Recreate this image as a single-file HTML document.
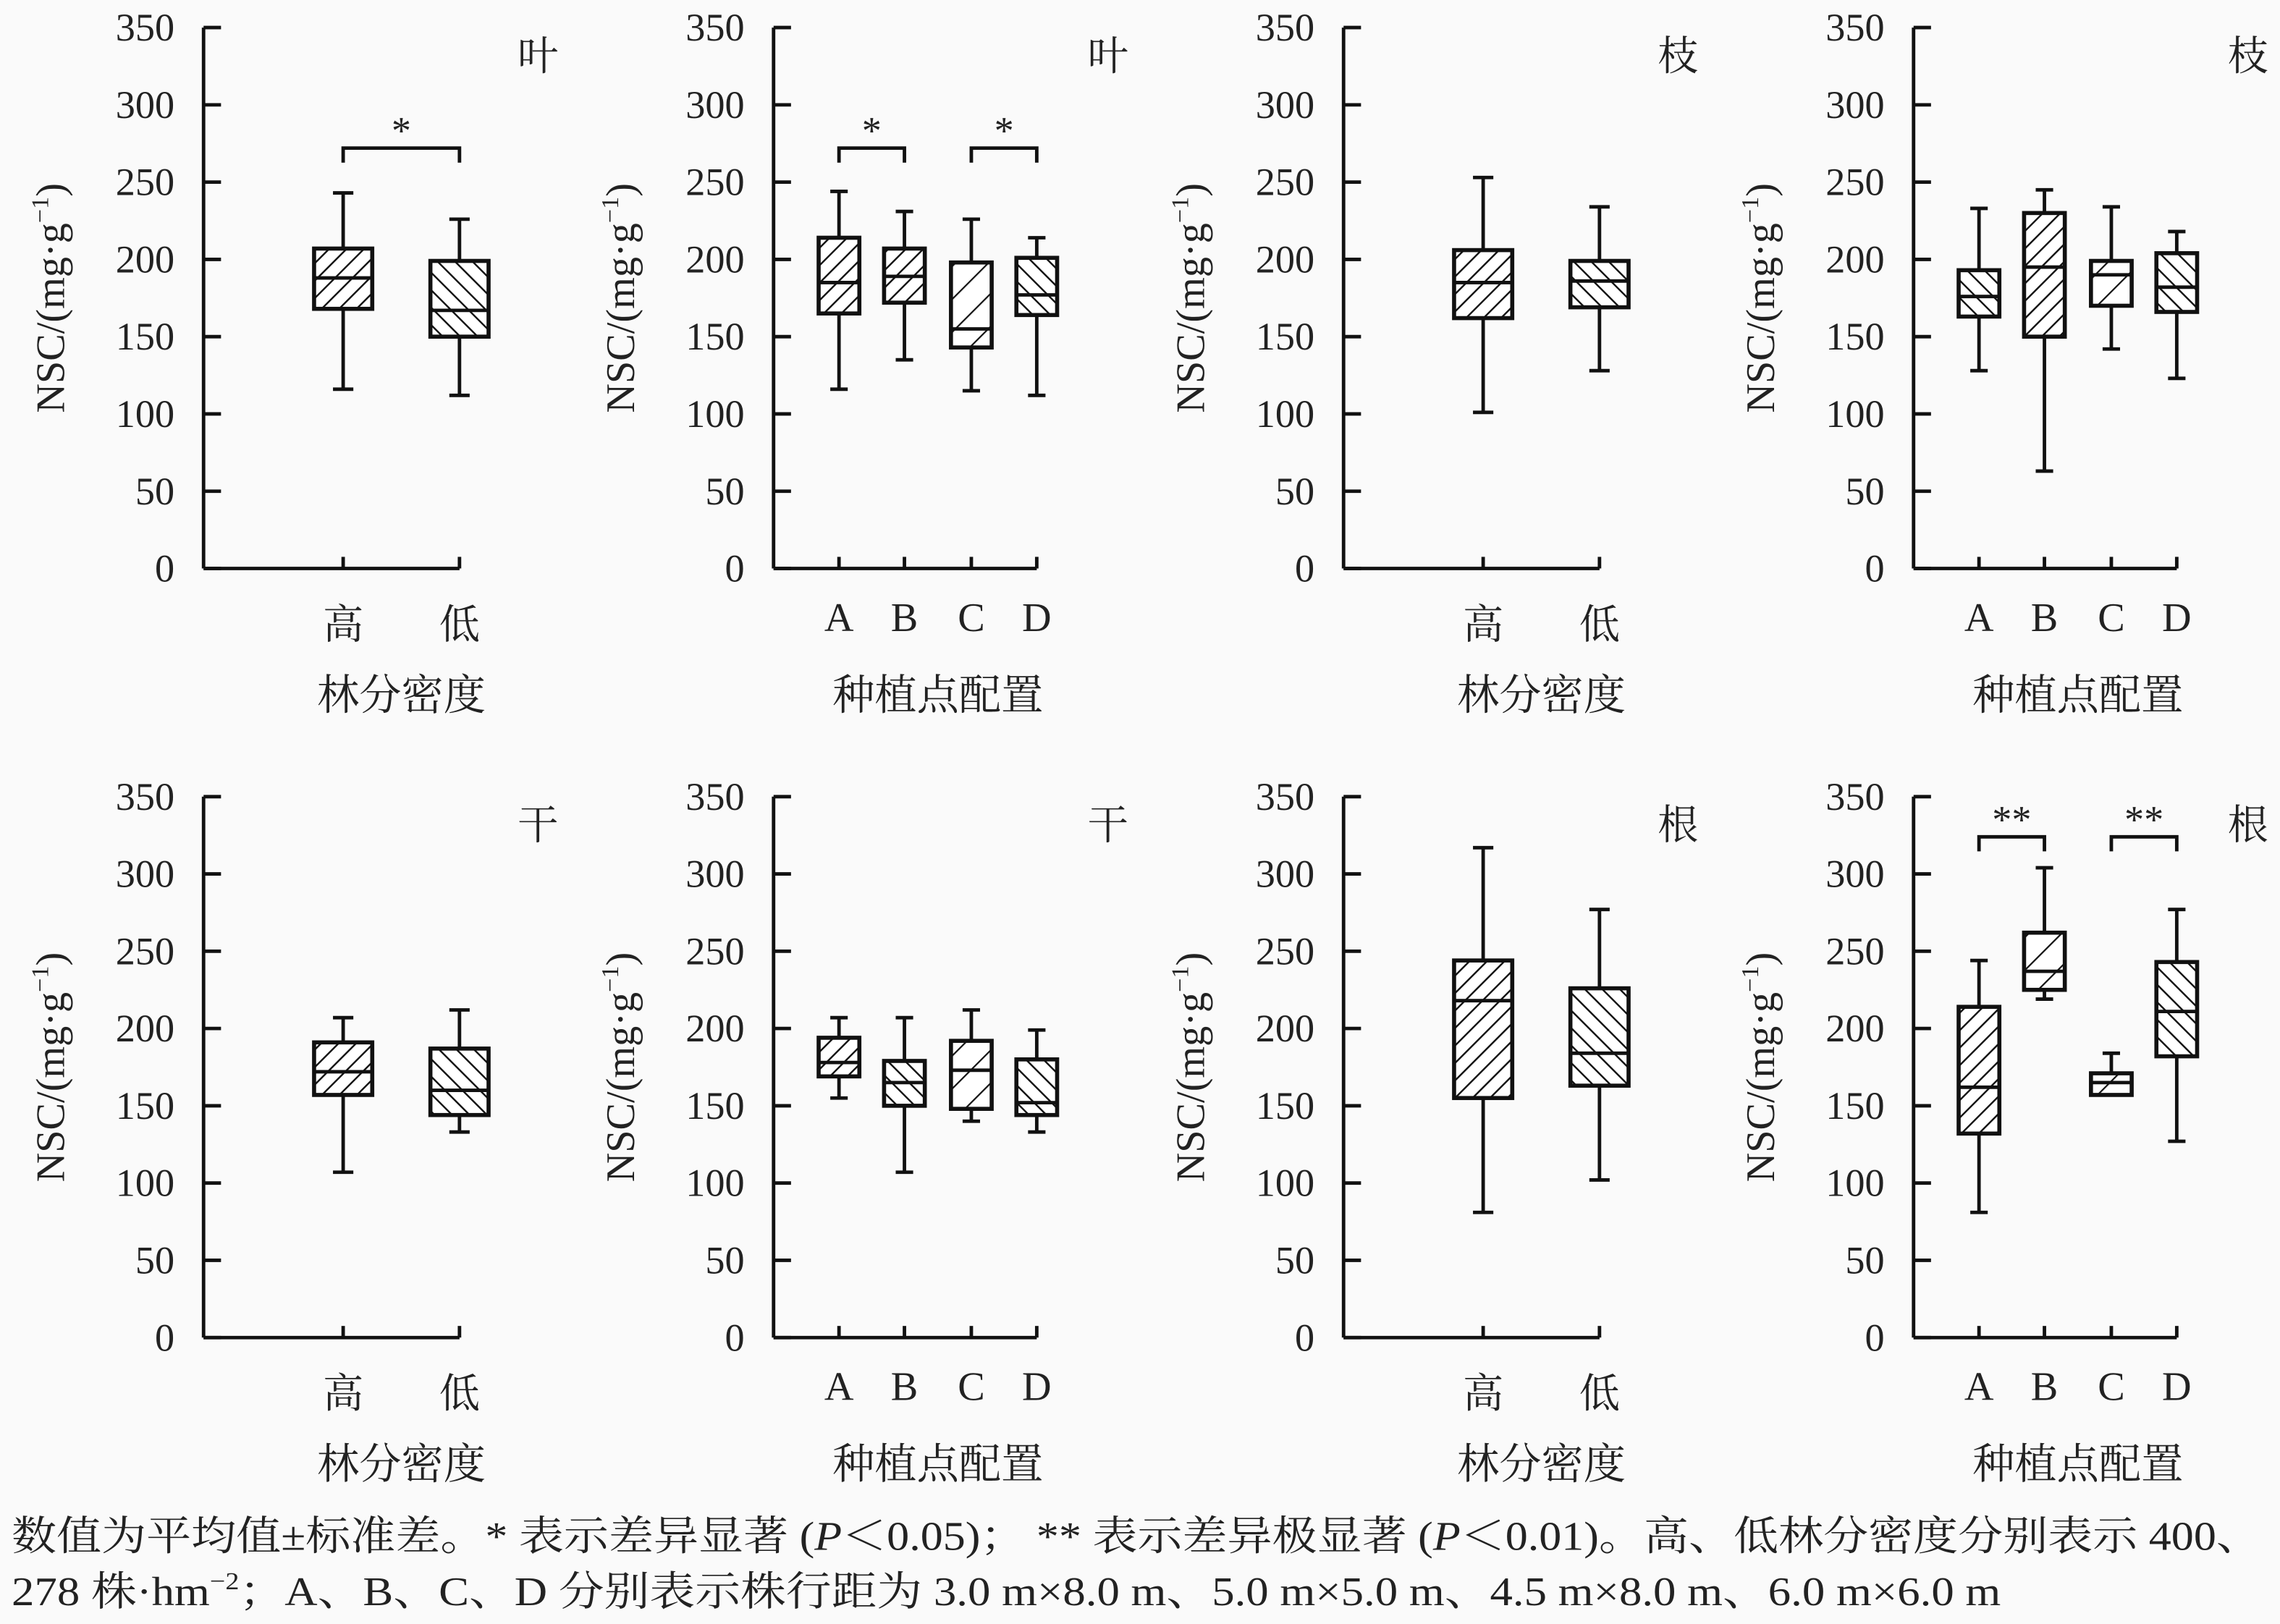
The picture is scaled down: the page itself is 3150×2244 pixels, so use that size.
<!DOCTYPE html>
<html><head><meta charset="utf-8">
<style>html,body{margin:0;padding:0;background:#fafafa;}svg{display:block;}
svg text{font-family:"Liberation Serif","Noto Serif CJK SC",serif;fill:#222;}</style></head>
<body>
<svg id="s" width="3150" height="2244" viewBox="0 0 1568 1117" xmlns="http://www.w3.org/2000/svg" font-family="'Liberation Serif','Noto Serif CJK SC',serif">
<defs>
<pattern id="f" width="8.5" height="8.5" patternUnits="userSpaceOnUse" patternTransform="rotate(45)"><rect width="8.5" height="8.5" fill="#fff"/><line x1="0" y1="0" x2="0" y2="8.5" stroke="#111" stroke-width="2.4"/></pattern>
<pattern id="b" width="8.5" height="8.5" patternUnits="userSpaceOnUse" patternTransform="rotate(-45)"><rect width="8.5" height="8.5" fill="#fff"/><line x1="0" y1="0" x2="0" y2="8.5" stroke="#111" stroke-width="2.4"/></pattern>
<pattern id="fs" width="16" height="16" patternUnits="userSpaceOnUse" patternTransform="rotate(45)"><rect width="16" height="16" fill="#fff"/><line x1="0" y1="0" x2="0" y2="16" stroke="#111" stroke-width="2.2"/></pattern>
</defs>
<g id="g"></g>
<text x="8" y="1066" font-size="28" textLength="1547" lengthAdjust="spacingAndGlyphs">数值为平均值±标准差。* 表示差异显著 (<tspan font-style="italic">P</tspan>＜0.05)； ** 表示差异极显著 (<tspan font-style="italic">P</tspan>＜0.01)。高、低林分密度分别表示 400、</text>
<text x="8" y="1104" font-size="28" textLength="1368" lengthAdjust="spacingAndGlyphs">278 株·hm<tspan font-size="17" dy="-11">−2</tspan><tspan dy="11">；A、B、C、D 分别表示株行距为 3.0 m×8.0 m、5.0 m×5.0 m、4.5 m×8.0 m、6.0 m×6.0 m</tspan></text>
</svg>
<script>
var g=document.getElementById('g'),h='';
var panels=[
 {ax:140,y0:391,t:'叶',two:1,d:[[116,243,168,207,188,'f'],[112,226,150,199,167,'b']],br:[[0,1,272,'*']]},
 {ax:532,y0:391,t:'叶',two:0,d:[[116,244,165,214,185,'f'],[135,231,172,207,189,'f'],[115,226,143,198,155,'fs'],[112,214,164,201,177,'b']],br:[[0,1,272,'*'],[2,3,272,'*']]},
 {ax:924,y0:391,t:'枝',two:1,d:[[101,253,162,206,185,'f'],[128,234,169,199,186,'b']],br:[]},
 {ax:1316,y0:391,t:'枝',two:0,d:[[128,233,163,193,176,'b'],[63,245,150,230,195,'f'],[142,234,170,199,190,'fs'],[123,218,166,204,182,'b']],br:[]},
 {ax:140,y0:920,t:'干',two:1,d:[[107,207,157,191,172,'f'],[133,212,144,187,160,'b']],br:[]},
 {ax:532,y0:920,t:'干',two:0,d:[[155,207,169,194,178,'f'],[107,207,150,179,165,'b'],[140,212,148,192,173,'fs'],[133,199,144,180,152,'b']],br:[]},
 {ax:924,y0:920,t:'根',two:1,d:[[81,317,155,244,218,'f'],[102,277,163,226,184,'b']],br:[]},
 {ax:1316,y0:920,t:'根',two:0,d:[[81,244,132,214,162,'f'],[219,304,225,262,237,'fs'],[157,184,157,171,165,'fs'],[127,277,182,243,211,'b']],br:[[0,1,324,'**'],[2,3,324,'**']]}
];
var k=1.063;
panels.forEach(function(p){
 var Y=function(v){return p.y0-v*k;};
 var xs=p.two?[p.ax+96,p.ax+176]:[p.ax+45,p.ax+90,p.ax+136,p.ax+181];
 var bw=p.two?40:28, cw=p.two?14:12;
 var L='stroke="#111" stroke-width="2.4" fill="none"';
 h+='<line x1="'+p.ax+'" y1="'+Y(350)+'" x2="'+p.ax+'" y2="'+p.y0+'" '+L+'/>';
 h+='<line x1="'+p.ax+'" y1="'+p.y0+'" x2="'+xs[xs.length-1]+'" y2="'+p.y0+'" '+L+'/>';
 for(var v=0;v<=350;v+=50){h+='<line x1="'+p.ax+'" y1="'+Y(v)+'" x2="'+(p.ax+12)+'" y2="'+Y(v)+'" '+L+'/>';
  h+='<text x="'+(p.ax-20)+'" y="'+(Y(v)+9)+'" font-size="27" text-anchor="end">'+v+'</text>';}
 xs.forEach(function(x){h+='<line x1="'+x+'" y1="'+p.y0+'" x2="'+x+'" y2="'+(p.y0-8)+'" '+L+'/>';});
 var labs=p.two?['高','低']:['A','B','C','D'];
 xs.forEach(function(x,i){h+='<text x="'+x+'" y="'+(p.y0+(p.two?48:43))+'" font-size="28" text-anchor="middle">'+labs[i]+'</text>';});
 var mid=p.two?(p.ax+136):(p.ax+113);
 h+='<text x="'+mid+'" y="'+(p.y0+97)+'" font-size="29" text-anchor="middle">'+(p.two?'林分密度':'种植点配置')+'</text>';
 h+='<text x="'+(p.ax+230)+'" y="'+(p.y0-343)+'" font-size="28" text-anchor="middle">'+p.t+'</text>';
 h+='<text transform="translate('+(p.ax-96)+','+(p.y0-186)+') rotate(-90)" font-size="28" text-anchor="middle">NSC/(mg·g<tspan font-size="17" dy="-11">−1</tspan><tspan dy="11">)</tspan></text>';
 p.d.forEach(function(d,i){var x=xs[i];
  h+='<line x1="'+x+'" y1="'+Y(d[0])+'" x2="'+x+'" y2="'+Y(d[1])+'" '+L+'/>';
  h+='<line x1="'+(x-cw/2)+'" y1="'+Y(d[0])+'" x2="'+(x+cw/2)+'" y2="'+Y(d[0])+'" '+L+'/>';
  h+='<line x1="'+(x-cw/2)+'" y1="'+Y(d[1])+'" x2="'+(x+cw/2)+'" y2="'+Y(d[1])+'" '+L+'/>';
  h+='<rect x="'+(x-bw/2)+'" y="'+Y(d[3])+'" width="'+bw+'" height="'+(Y(d[2])-Y(d[3]))+'" fill="url(#'+d[5]+')" stroke="#111" stroke-width="2.8"/>';
  h+='<line x1="'+(x-bw/2)+'" y1="'+Y(d[4])+'" x2="'+(x+bw/2)+'" y2="'+Y(d[4])+'" '+L+'/>';
 });
 p.br.forEach(function(b){var a=xs[b[0]],c=xs[b[1]],y=Y(b[2]);
  h+='<polyline points="'+a+','+(y+10)+' '+a+','+y+' '+c+','+y+' '+c+','+(y+10)+'" '+L+'/>';
  h+='<text x="'+((a+c)/2)+'" y="'+(y-3)+'" font-size="27" text-anchor="middle">'+b[3]+'</text>';});
});
g.innerHTML=h;
</script>
</body></html>
